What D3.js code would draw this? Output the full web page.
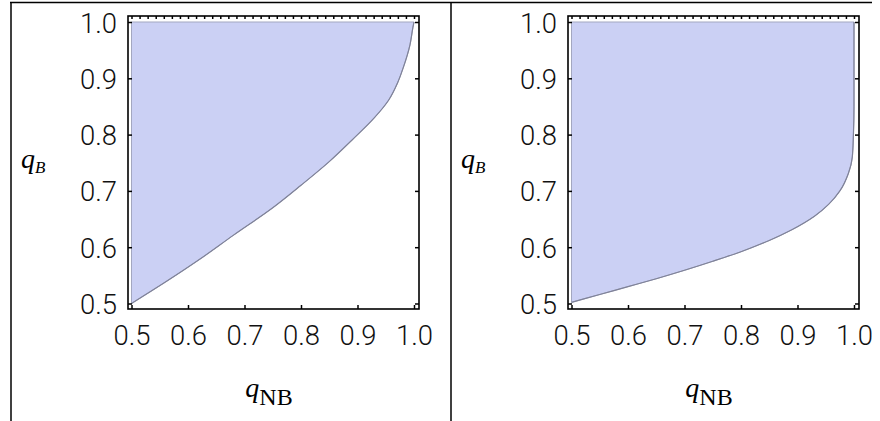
<!DOCTYPE html>
<html>
<head>
<meta charset="utf-8">
<script src="https://cdn.jsdelivr.net/npm/d3@7"></script>
<style>
  body { margin: 0; background: #fff; }
  svg { display: block; }
</style>
</head>
<body>
<div id="chart"></div>
<script>
// tick values shared by both panels
var tickValues = [0.5, 0.6, 0.7, 0.8, 0.9, 1.0];
var tickLabels = ["0.5", "0.6", "0.7", "0.8", "0.9", "1.0"];

// boundary of the shaded region, left panel (q_NB, q_B)
var leftQNB = [0.5, 0.56, 0.62, 0.68, 0.75, 0.80, 0.85, 0.89, 0.93, 0.955, 0.971, 0.981, 0.993, 0.998, 1.0];
var leftQB  = [0.5, 0.538, 0.578, 0.621, 0.670, 0.710, 0.752, 0.790, 0.830, 0.861, 0.892, 0.919, 0.96, 0.99, 1.0];

// boundary of the shaded region, right panel
var rightQNB = [0.5, 0.55, 0.6, 0.65, 0.7, 0.75, 0.8, 0.85, 0.89, 0.93, 0.955, 0.975, 0.99, 0.997, 0.999, 1.0, 1.0];
var rightQB  = [0.502, 0.516, 0.530, 0.544, 0.559, 0.575, 0.592, 0.612, 0.631, 0.655, 0.676, 0.700, 0.731, 0.76, 0.80, 0.85, 1.0];

var W = 880, H = 421;
var frame = { x0: 128, x1: 419, y0: 16, y1: 309 };
var fillColor = "#cbd0f4";

var svg = d3.select("#chart").append("svg")
    .attr("width", W)
    .attr("height", H);

svg.append("rect").attr("width", W).attr("height", H).attr("fill", "#fff");

// table lines around the two cells
svg.append("line").attr("x1", 10).attr("x2", 872).attr("y1", 2.5).attr("y2", 2.5)
    .attr("stroke", "#000").attr("stroke-width", 1.5);
[11, 451].forEach(function (xx) {
    svg.append("line").attr("x1", xx).attr("x2", xx).attr("y1", 2).attr("y2", H)
        .attr("stroke", "#000").attr("stroke-width", 1.5);
});

function drawPanel(offset, qnb, qb) {
    var g = svg.append("g").attr("transform", "translate(" + offset + ",0)");

    var x = d3.scaleLinear().domain([0.5, 1]).range([131.5, 414]);
    var y = d3.scaleLinear().domain([0.5, 1]).range([303.5, 22]);

    var pts = qnb.map(function (v, i) { return [v, qb[i]]; });

    var curve = d3.line()
        .x(function (d) { return x(d[0]); })
        .y(function (d) { return y(d[1]); })
        .curve(d3.curveMonotoneY);

    // shaded region: above the boundary, closed along q_B = 1 and q_NB = 0.5
    var edge = curve(pts);
    g.append("path")
        .attr("d", edge + "L" + x(0.5) + "," + y(1) + "Z")
        .attr("fill", fillColor)
        .attr("stroke", "#a3a7c0")
        .attr("stroke-width", 1);

    g.append("path")
        .attr("d", edge)
        .attr("fill", "none")
        .attr("stroke", "#7f8298")
        .attr("stroke-width", 1.2);

    // axes (ticks point inward)
    var bottom = g.append("g")
        .attr("transform", "translate(0," + frame.y1 + ")")
        .call(d3.axisBottom(x).tickValues(tickValues).tickSize(-4)
            .tickFormat(function (d, i) { return tickLabels[i]; }));
    var left = g.append("g")
        .attr("transform", "translate(" + frame.x0 + ",0)")
        .call(d3.axisLeft(y).tickValues(tickValues).tickSize(-4)
            .tickFormat(function (d, i) { return tickLabels[i]; }));
    var top = g.append("g")
        .attr("transform", "translate(0," + frame.y0 + ")")
        .call(d3.axisTop(x).tickValues(d3.range(0.5, 1.005, 1 / 70)).tickSize(-3).tickFormat(""));
    var right = g.append("g")
        .attr("transform", "translate(" + frame.x1 + ",0)")
        .call(d3.axisRight(y).tickValues(tickValues).tickSize(-4).tickFormat(""));

    [bottom, left, top, right].forEach(function (a) {
        a.select(".domain").remove();
        a.selectAll("line").attr("stroke", "#000").attr("stroke-width", 1.5);
    });

    [bottom, left].forEach(function (a) {
        a.attr("font-family", "Roboto, sans-serif")
            .attr("font-size", 28)
            .attr("font-weight", 300);
        a.selectAll("text")
            .attr("fill", "#111")
            .attr("textLength", 37)
            .attr("lengthAdjust", "spacingAndGlyphs");
    });
    bottom.selectAll("text").attr("y", 36).attr("dy", null);
    left.selectAll("text").attr("x", -11).attr("y", 10).attr("dy", null);

    // frame
    g.append("rect")
        .attr("x", frame.x0).attr("y", frame.y0)
        .attr("width", frame.x1 - frame.x0).attr("height", frame.y1 - frame.y0)
        .attr("fill", "none").attr("stroke", "#000").attr("stroke-width", 1.6);

    // axis titles
    var xt = g.append("text")
        .attr("x", 269).attr("y", 397)
        .attr("text-anchor", "middle")
        .attr("font-family", "'Liberation Serif', serif");
    xt.append("tspan").attr("font-style", "italic").attr("font-size", 28).text("q");
    xt.append("tspan").attr("font-size", 24).attr("dy", 8).text("NB");

    var yt = g.append("text")
        .attr("x", 21).attr("y", 168)
        .attr("font-family", "'Liberation Serif', serif")
        .attr("font-style", "italic");
    yt.append("tspan").attr("font-size", 28).text("q");
    yt.append("tspan").attr("font-size", 17).attr("dy", 5).text("B");
}

drawPanel(0, leftQNB, leftQB);
drawPanel(440, rightQNB, rightQB);
</script>
</body>
</html>
